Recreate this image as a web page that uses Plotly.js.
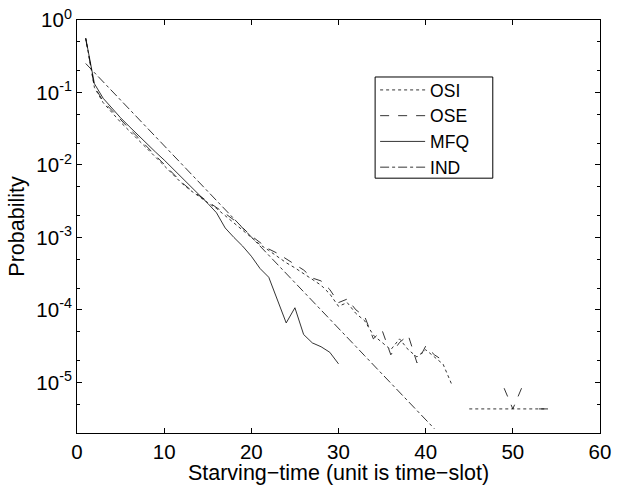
<!DOCTYPE html>
<html>
<head>
<meta charset="utf-8">
<script src="https://cdn.plot.ly/plotly-3.0.1.min.js"></script>
<style>html,body{margin:0;padding:0;background:#fff;}#chart{width:622px;height:485px;}</style>
</head>
<body>
<div id="chart"></div>
<script>
// Starving-time (time-slots)
const xOSI = [1,2,3,4,5,6,7,8,9,10,11,12,13,14,15,16,17,18,19,20,21,22,23,24,25,26,27,28,29,30,31,32,33,34,35,36,37,38,39,40,41,42,43,44,45,46,47,48,49,50,51,52,53,54];
const yOSI = [0.562,0.117,0.0724,0.0525,0.0389,0.0295,0.0224,0.0166,0.0126,0.00977,0.00741,0.00562,0.00447,0.00363,0.00302,0.00251,0.002,0.00158,0.00126,0.001,7.94e-4,6.61e-4,5.37e-4,4.47e-4,3.8e-4,3.16e-4,2.63e-4,2.19e-4,1.66e-4,1.12e-4,1.26e-4,8.91e-5,7.08e-5,4.47e-5,3.55e-5,2.82e-5,3.98e-5,2.82e-5,2.24e-5,2.82e-5,2.24e-5,1.78e-5,9.3e-6,null,4.3e-6,4.3e-6,4.3e-6,4.3e-6,4.3e-6,4.3e-6,4.3e-6,4.3e-6,4.3e-6,4.3e-6];

const xOSE = [1,2,3,4,5,6,7,8,9,10,11,12,13,14,15,16,17,18,19,20,21,22,23,24,25,26,27,28,29,30,31,32,33,34,35,36,37,38,39,40,41,42,43,44,45,46,47,48,49,50,51,52,53,54];
const yOSE = [0.55,0.12,0.0759,0.0562,0.0417,0.0316,0.024,0.0178,0.0135,0.0102,0.00759,0.00575,0.00457,0.0038,0.00316,0.00263,0.00214,0.00174,0.00135,0.00105,8.51e-4,6.92e-4,6.03e-4,5.01e-4,4.17e-4,3.55e-4,2.75e-4,2.51e-4,1.91e-4,1.26e-4,1.41e-4,1e-4,8.13e-5,3.98e-5,5.25e-5,2.4e-5,3.55e-5,4.47e-5,1.86e-5,3.16e-5,2.4e-5,2.0e-5,null,null,null,null,null,null,8.3e-6,4.3e-6,8.3e-6,null,4.3e-6,4.3e-6];

const xMFQ = [1,2,3,4,5,6,7,8,9,10,11,12,13,14,15,16,17,18,19,20,21,22,23,24,25,26,27,28,29,30];
const yMFQ = [0.562,0.132,0.0832,0.0603,0.0447,0.0339,0.0257,0.0195,0.0151,0.0117,0.00891,0.00676,0.00513,0.00389,0.00295,0.00219,0.00135,0.001,7.59e-4,5.5e-4,3.72e-4,2.82e-4,1.38e-4,6.61e-5,1.07e-4,4.57e-5,3.5e-5,3.1e-5,2.6e-5,1.8e-5];

const xIND = [1,2,3,4,5,6,7,8,9,10,11,12,13,14,15,16,17,18,19,20,21,22,23,24,25,26,27,28,29,30,31,32,33,34,35,36,37,38,39,40,41];
const yIND = [0.251,0.188,0.141,0.105,0.0787,0.0589,0.0441,0.033,0.0247,0.0185,0.0138,0.0103,7.73e-3,5.78e-3,4.33e-3,3.24e-3,2.42e-3,1.81e-3,1.36e-3,1.01e-3,7.59e-4,5.68e-4,4.25e-4,3.18e-4,2.38e-4,1.78e-4,1.33e-4,9.95e-5,7.45e-5,5.57e-5,4.17e-5,3.12e-5,2.33e-5,1.75e-5,1.31e-5,9.77e-6,7.31e-6,5.47e-6,4.09e-6,3.06e-6,2.29e-6];

const seriesNames = ['OSI','OSE','MFQ','IND'];
const yTickVals = [1,0.1,0.01,0.001,1e-4,1e-5];
const yTickText = ['10<sup>0</sup>','10<sup>-1</sup>','10<sup>-2</sup>','10<sup>-3</sup>','10<sup>-4</sup>','10<sup>-5</sup>'];
const xTickVals = [0,10,20,30,40,50,60];

const font = 'Liberation Sans, Arial, Helvetica, sans-serif';
function tr(x, y, name, dash) {
  return {x: x, y: y, name: name, type: 'scatter', mode: 'lines',
    connectgaps: false,
    line: {color: '#000', width: 0.8, dash: dash}};
}
const data = [
  tr(xOSI, yOSI, seriesNames[0], 'dot'),
  tr(xOSE, yOSE, seriesNames[1], 'dash'),
  tr(xMFQ, yMFQ, seriesNames[2], 'solid'),
  tr(xIND, yIND, seriesNames[3], 'dashdot')
];
const layout = {
  width: 622, height: 485,
  margin: {l: 77, r: 22, t: 20, b: 52},
  paper_bgcolor: '#fff', plot_bgcolor: '#fff',
  font: {family: font, color: '#000', size: 21},
  showlegend: true,
  legend: {x: 0.57, y: 0.874, xanchor: 'left', yanchor: 'top',
    bgcolor: 'rgba(0,0,0,0)', borderwidth: 0,
    font: {family: font, size: 17.5, color: '#000'},
    tracegroupgap: 0, itemwidth: 45},
  shapes: [{type: 'rect', xref: 'paper', yref: 'paper', x0: 0.57, x1: 0.795, y0: 0.617, y1: 0.862,
    line: {color: '#000', width: 1}, fillcolor: '#fff', layer: 'above'}],
  xaxis: {range: [0, 60], tickvals: xTickVals, ticks: 'inside', ticklen: 5,
    showgrid: false, zeroline: false, showline: true, linecolor: '#000', linewidth: 1,
    mirror: 'ticks', tickfont: {size: 20.5}, tickcolor: '#000',
    title: {text: 'Starving\u2212time (unit is time\u2212slot)', font: {size: 21.5}, standoff: 1}},
  yaxis: {type: 'log', range: [Math.log10(2e-6), 0], tickvals: yTickVals, ticktext: yTickText,
    ticks: 'inside', ticklen: 5, showgrid: false, zeroline: false, showline: true,
    linecolor: '#000', linewidth: 1, mirror: 'ticks', tickfont: {size: 20.5}, tickcolor: '#000',
    minor: {ticks: 'inside', ticklen: 3, tickcolor: '#000', showgrid: false},
    title: {text: 'Probability', font: {size: 21.5}, standoff: 5}}
};
Plotly.newPlot('chart', data, layout, {displayModeBar: false, staticPlot: true});
</script>
</body>
</html>
